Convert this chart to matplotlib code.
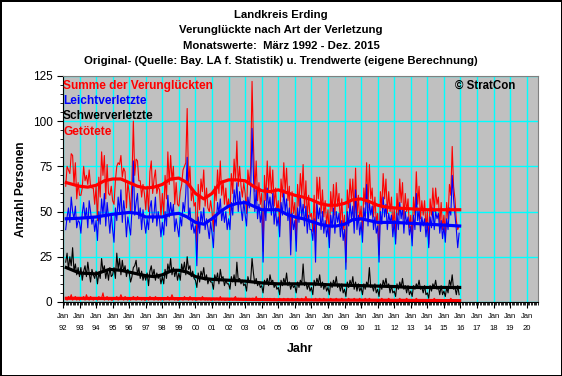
import numpy as np
import matplotlib
matplotlib.use("Agg")
import matplotlib.pyplot as plt
from matplotlib.ticker import MultipleLocator

# Monatswerte Maerz 1992 - Dez. 2015
leicht = [
    40, 47, 52, 44, 58, 50, 46, 53, 41, 45,
    44, 38, 49, 55, 46, 52, 41, 56, 50, 43, 47, 39,
    45, 34, 50, 43, 57, 48, 60, 42, 55, 47, 38, 49,
    40, 33, 52, 45, 58, 50, 62, 44, 56, 49, 36, 47,
    42, 37, 51, 78, 48, 55, 60, 46, 52, 40, 51, 44,
    38, 46, 40, 52, 56, 44, 49, 58, 42, 50, 45, 36,
    44, 37, 50, 42, 59, 47, 55, 48, 54, 39, 46, 41,
    36, 47, 42, 55, 50, 60, 80, 46, 52, 40, 44, 38,
    42, 20, 47, 38, 50, 44, 52, 40, 46, 41, 35, 44,
    38, 30, 48, 42, 55, 49, 57, 45, 51, 44, 50, 40,
    46, 40, 55, 48, 62, 55, 66, 50, 61, 52, 45, 56,
    48, 42, 58, 52, 62, 96, 70, 50, 62, 46, 54, 44,
    50, 22, 56, 45, 63, 52, 58, 48, 60, 43, 52, 42,
    47, 36, 55, 48, 62, 50, 57, 45, 52, 26, 49, 40,
    45, 28, 52, 44, 58, 47, 54, 42, 53, 38, 48, 40,
    40, 34, 46, 22, 55, 46, 52, 40, 50, 38, 45, 36,
    42, 30, 48, 41, 52, 38, 50, 44, 49, 36, 45, 34,
    40, 18, 50, 42, 55, 46, 53, 38, 62, 40, 48, 37,
    44, 33, 52, 45, 65, 42, 55, 48, 53, 40, 47, 38,
    42, 22, 50, 43, 58, 47, 54, 40, 49, 44, 48, 36,
    45, 32, 49, 40, 55, 46, 52, 38, 50, 43, 47, 37,
    42, 31, 48, 40, 60, 45, 51, 39, 47, 42, 46, 36,
    44, 30, 47, 41, 52, 40, 50, 46, 49, 38, 45, 35,
    42, 33, 46, 40, 52, 48, 70, 57, 48, 40, 30, 38,
]
schwer = [
    22, 27, 18, 25, 20, 30, 17, 21, 15, 19,
    14, 19, 12, 17, 20, 14, 22, 16, 11, 18, 15, 13,
    17, 10, 16, 13, 24, 17, 20, 13, 18, 12, 19, 14,
    15, 19, 13, 27, 18, 24, 15, 23, 17, 20, 14, 18,
    16, 11, 14, 19, 20, 23, 15, 19, 13, 17, 12, 15,
    12, 16, 9, 17, 20, 14, 18, 12, 16, 13, 15, 10,
    14, 10, 18, 13, 21, 17, 24, 15, 19, 14, 18, 12,
    16, 12, 21, 17, 22, 15, 25, 18, 20, 14, 17, 13,
    12, 8, 16, 11, 17, 14, 19, 12, 15, 10, 13, 11,
    11, 7, 15, 12, 16, 10, 18, 13, 14, 9, 12, 10,
    10, 7, 14, 11, 15, 9, 22, 12, 13, 10, 12, 9,
    10, 6, 14, 11, 12, 24, 16, 10, 13, 9, 11, 8,
    9, 5, 12, 10, 13, 9, 15, 11, 12, 8, 10, 7,
    8, 4, 12, 9, 13, 10, 16, 9, 11, 7, 10, 8,
    9, 5, 11, 8, 12, 10, 21, 9, 11, 7, 10, 6,
    8, 4, 12, 9, 13, 10, 15, 8, 11, 7, 10, 6,
    8, 4, 11, 8, 12, 9, 14, 8, 10, 6, 10, 5,
    7, 3, 11, 8, 12, 9, 14, 7, 11, 6, 10, 6,
    8, 4, 10, 7, 11, 9, 19, 8, 9, 6, 10, 5,
    7, 3, 10, 7, 12, 9, 13, 8, 10, 5, 9, 5,
    6, 3, 10, 7, 11, 8, 13, 7, 9, 5, 9, 4,
    6, 3, 9, 7, 10, 8, 12, 7, 8, 5, 9, 4,
    5, 2, 9, 6, 10, 8, 12, 7, 8, 4, 9, 4,
    6, 3, 8, 5, 12, 9, 15, 7, 8, 4, 9, 4,
]
getoetet = [
    2, 1, 3, 2, 4, 1, 2, 3, 1, 2,
    1, 2, 2, 3, 1, 4, 2, 1, 3, 2, 1, 2,
    2, 1, 3, 2, 2, 5, 1, 2, 3, 1, 2, 1,
    1, 2, 2, 3, 1, 2, 4, 2, 1, 3, 2, 1,
    2, 1, 2, 3, 2, 1, 3, 2, 2, 1, 2, 1,
    1, 2, 1, 3, 2, 2, 1, 3, 2, 1, 2, 1,
    2, 1, 2, 2, 3, 1, 2, 4, 2, 1, 2, 1,
    1, 2, 2, 1, 3, 2, 2, 1, 3, 2, 1, 2,
    1, 1, 2, 2, 1, 3, 2, 1, 2, 1, 2, 1,
    1, 2, 1, 2, 2, 1, 3, 1, 2, 1, 1, 2,
    1, 1, 2, 1, 2, 3, 1, 2, 1, 2, 1, 1,
    2, 1, 1, 2, 1, 2, 2, 1, 3, 1, 1, 2,
    1, 1, 2, 1, 2, 1, 2, 1, 1, 2, 1, 1,
    1, 2, 1, 1, 2, 1, 1, 2, 1, 1, 2, 1,
    1, 1, 2, 1, 1, 2, 1, 1, 3, 1, 1, 1,
    1, 1, 1, 2, 1, 1, 2, 1, 1, 2, 1, 1,
    1, 1, 2, 1, 1, 1, 2, 1, 1, 1, 2, 1,
    1, 1, 1, 2, 1, 1, 1, 2, 1, 1, 1, 2,
    1, 1, 1, 2, 1, 1, 2, 1, 1, 1, 1, 1,
    0, 1, 1, 2, 1, 1, 1, 1, 2, 1, 1, 0,
    1, 0, 1, 1, 2, 1, 1, 1, 1, 2, 1, 0,
    0, 1, 1, 1, 2, 1, 1, 0, 1, 1, 1, 1,
    1, 0, 1, 1, 1, 2, 1, 1, 1, 0, 1, 1,
    0, 1, 1, 1, 1, 2, 1, 0, 1, 1, 1, 0,
]

# Trendwerte (Dezimaljahr, Wert)
trend_jahre_summe = [1992.2, 1993.0, 1993.5, 1994.0, 1994.5, 1995.0, 1995.5, 1996.0, 1996.5,
                     1997.0, 1997.5, 1998.0, 1998.5, 1999.0, 1999.5, 2000.0, 2000.5, 2001.0,
                     2001.5, 2002.0, 2002.5, 2003.0, 2003.5, 2004.0, 2004.5, 2005.0, 2005.5,
                     2006.0, 2006.5, 2007.0, 2007.5, 2008.0, 2008.5, 2009.0, 2009.5, 2010.0,
                     2010.5, 2011.0, 2011.5, 2012.0, 2013.0, 2014.0, 2015.0, 2015.95]
trend_summe = [66, 64, 63.5, 64.5, 67, 68, 68, 66, 64,
               63, 63.5, 65, 68, 68.5, 66, 60, 57, 60,
               66, 67.5, 67.5, 67, 64, 61.5, 61, 62, 60.5,
               59, 58, 56.5, 54.5, 53.5, 53.5, 54.5, 56.5, 57,
               55.5, 53.5, 52.5, 52, 51.5, 51, 51, 51]

trend_jahre_leicht = [1992.2, 1993.0, 1994.0, 1995.0, 1996.0, 1996.5, 1997.0, 1998.0, 1998.5,
                      1999.0, 1999.5, 2000.0, 2000.5, 2001.0, 2001.5, 2002.0, 2002.5, 2003.0,
                      2003.5, 2004.0, 2005.0, 2005.5, 2006.0, 2006.5, 2007.0, 2007.5, 2008.0,
                      2008.5, 2009.0, 2009.5, 2010.0, 2010.5, 2011.0, 2012.0, 2013.0, 2014.0,
                      2015.0, 2015.95]
trend_leicht = [46, 46.3, 47, 48.5, 49.5, 49, 47, 47, 48.5,
                49, 47, 44, 43, 46, 50, 53, 54.5, 55,
                53, 51, 51, 48.5, 47, 46, 44.5, 43, 42,
                42, 43, 45.5, 46, 45, 44, 44, 43.5, 43,
                42.5, 42]

trend_jahre_schwer = [1992.2, 1993.0, 1994.0, 1994.8, 1995.5, 1996.0, 1997.0, 1997.5, 1998.0,
                      1998.6, 1999.0, 1999.5, 2000.0, 2000.5, 2001.0, 2002.0, 2003.0, 2004.0,
                      2005.0, 2007.0, 2008.0, 2010.0, 2012.0, 2013.0, 2015.95]
trend_schwer = [19, 16, 15.5, 18, 17.5, 16.5, 14.5, 14, 15,
                17.5, 17.5, 16.5, 14, 13, 12.5, 12, 11.5, 10.5,
                10, 10, 9.5, 9, 8.5, 8, 8]

trend_jahre_tot = [1992.2, 2000.0, 2005.0, 2010.0, 2015.95]
trend_tot = [2, 1.8, 1.2, 1, 0.7]

jahre = list(range(1992, 2021))
monate = 1992 + (2 + np.arange(len(leicht))) / 12
summe = np.array(leicht) + np.array(schwer) + np.array(getoetet)

fig = plt.figure(figsize=(5.62, 3.76), dpi=100, facecolor="white",
                 edgecolor="black", linewidth=2)
ax = fig.add_axes([0.112, 0.197, 0.845, 0.601])
ax.set_facecolor("#c0c0c0")

# Rohwerte
ax.plot(monate, summe, color="red", linewidth=0.8)
ax.plot(monate, leicht, color="blue", linewidth=0.8)
ax.plot(monate, schwer, color="black", linewidth=0.8)
ax.plot(monate, getoetet, color="red", linewidth=0.8)

# Trends
ax.plot(trend_jahre_summe, trend_summe, color="red", linewidth=2.3)
ax.plot(trend_jahre_leicht, trend_leicht, color="blue", linewidth=2.3)
ax.plot(trend_jahre_schwer, trend_schwer, color="black", linewidth=2.3)
ax.plot(trend_jahre_tot, trend_tot, color="red", linewidth=2.3)

ax.set_xlim(1992, 2020.67)
ax.set_ylim(0, 125)
ax.set_xticks(jahre)
ax.set_xticklabels([f"Jan\n{j % 100:02d}" for j in jahre], fontsize=5.5,
                   family="Liberation Sans", linespacing=1.9)
ax.xaxis.set_minor_locator(MultipleLocator(1 / 12))
ax.set_yticks([0, 25, 50, 75, 100, 125])
ax.yaxis.set_minor_locator(MultipleLocator(5))
ax.tick_params(axis="y", labelsize=8.5, length=4, labelfontfamily="Liberation Sans")
ax.tick_params(axis="x", length=4, pad=4)
ax.tick_params(which="minor", length=2)
ax.grid(True, which="major", color="cyan", linewidth=1)
ax.set_axisbelow(True)
for s in ["top", "right"]:
    ax.spines[s].set_color("#808080")

ax.set_ylabel("Anzahl Personen", fontsize=8.5, fontweight="bold",
              family="Liberation Sans", labelpad=4)
ax.set_xlabel("Jahr", fontsize=9, fontweight="bold", family="Liberation Sans", labelpad=8)

titel = ["Landkreis Erding",
         "Verunglückte nach Art der Verletzung",
         "Monatswerte:  März 1992 - Dez. 2015",
         "Original- (Quelle: Bay. LA f. Statistik) u. Trendwerte (eigene Berechnung)"]
for i, t in enumerate(titel):
    fig.text(0.5, 1 - (15 + 15.3 * i) / 376, t, ha="center", va="center",
             fontsize=8.2, fontweight="bold", family="Liberation Sans")

legende = [("Summe der Verunglückten", "red"), ("Leichtverletzte", "blue"),
           ("Schwerverletzte", "black"), ("Getötete", "red")]
for i, (t, c) in enumerate(legende):
    fig.text(63 / 562, 1 - (86 + 15.2 * i) / 376, t, ha="left", va="center",
             fontsize=8.6, fontweight="bold", color=c, family="Liberation Sans")

fig.text(455 / 562, 1 - 86 / 376, "© StratCon", ha="left", va="center",
         fontsize=8.3, fontweight="bold", family="Liberation Sans")

fig.savefig("out.png", dpi=100)
